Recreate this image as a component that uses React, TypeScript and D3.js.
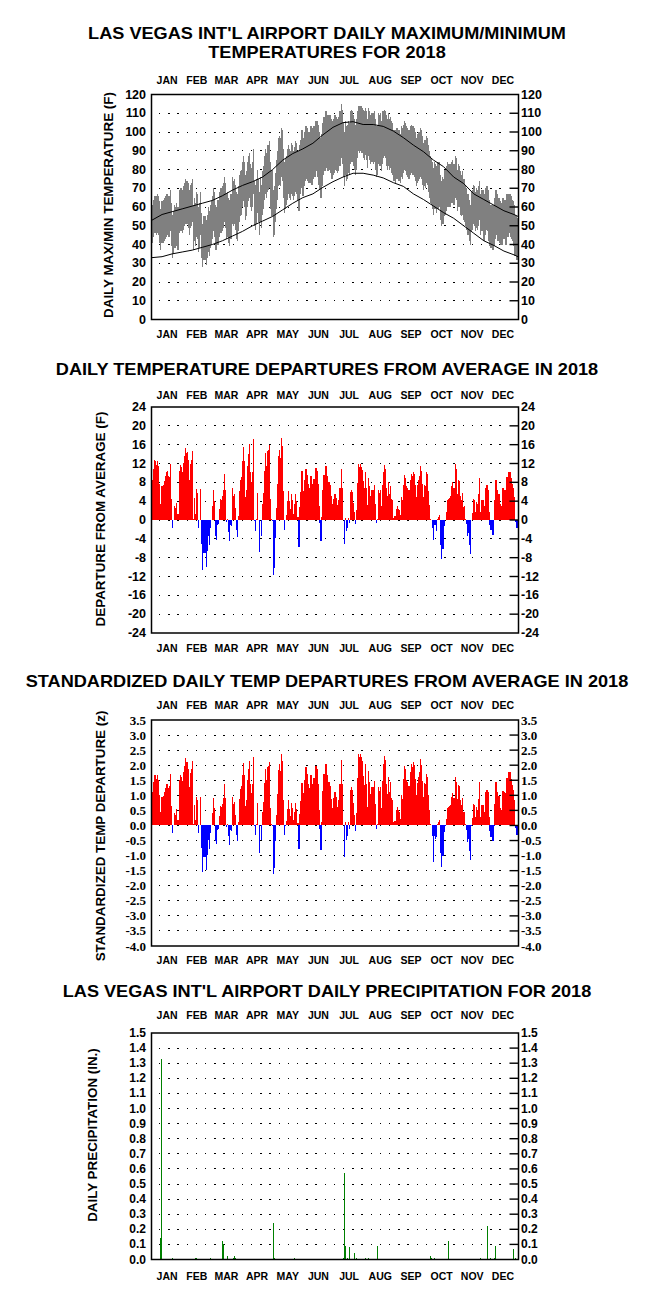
import React from "react";
import * as d3 from "d3";

const MONTHS = ["JAN", "FEB", "MAR", "APR", "MAY", "JUN", "JUL", "AUG", "SEP", "OCT", "NOV", "DEC"];
const MONTH_DAYS = [31, 28, 31, 30, 31, 30, 31, 31, 30, 31, 30, 31];

const TEMP_TICKS = [0, 10, 20, 30, 40, 50, 60, 70, 80, 90, 100, 110, 120];
const DEP_TICKS = [24, 20, 16, 12, 8, 4, 0, -4, -8, -12, -16, -20, -24];
const Z_TICKS = [3.5, 3.0, 2.5, 2.0, 1.5, 1.0, 0.5, 0.0, -0.5, -1.0, -1.5, -2.0, -2.5, -3.0, -3.5, -4.0];
const PRECIP_TICKS = [0, 0.1, 0.2, 0.3, 0.4, 0.5, 0.6, 0.7, 0.8, 0.9, 1.0, 1.1, 1.2, 1.3, 1.4, 1.5];

// daily max / min temperatures (F)
const TMAX = [
  61,64,66,66,66,67,66,63,59,63, 63,64,65,66,67,67,66,66,69,62, 56,58,61,60,62,60,60,69,70,70,
  69,71,73,75,74,74,73,69,72,73, 75,61,65,62,68,67,60,62,68,57, 51,55,55,55,53,56,60,58,61,63,
  66,70,68,61,60,64,64,68,70,70, 71,73,76,73,67,68,65,64,67,67, 76,74,75,72,68,67,71,77,79,80,
  84,87,84,77,79,84,87,89,83,81, 84,91,74,72,75,80,75,68,76,72, 79,82,87,91,89,93,93,95,84,80,
  80,69,71,78,85,90,97,98,97,102, 101,91,84,86,87,91,93,91,90,94, 93,90,92,95,94,90,84,93,96,101,
  92,97,100,103,102,100,100,100,103,98, 102,103,103,106,106,104,100,97,93,99, 105,108,107,111,109,107,109,109,107,104,
  106,107,109,108,107,108,111,111,115,112, 105,100,106,103,104,106,105,111,112,111, 109,107,104,107,111,114,114,114,114,113,
  112,111,113,111,107,113,111,109,110,110, 110,111,107,103,104,110,109,110,106,111, 111,112,111,109,107,110,107,108,106,105,
  101,101,101,102,102,101,101,99,103,102, 104,106,105,103,102,101,101,103,104,103, 103,102,100,97,99,100,100,102,101,98,
  94,96,96,98,97,93,90,87,86,84, 81,84,83,82,84,84,84,77,74,76, 75,80,80,82,84,83,83,83,84,85,
  83,83,87,86,80,83,82,79,77,79, 75,75,72,70,67,67,64,61,68,69, 72,71,68,70,69,71,74,67,69,69,
  64,67,70,71,69,64,61,60,61,58, 61,65,69,67,64,65,63,62,62,65, 64,64,62,67,66,67,67,66,64,63,
  61,56,55,53,54
];
const TMIN = [
  41,44,46,46,45,46,45,41,37,41, 41,41,42,43,44,45,44,44,47,39, 33,35,38,38,39,37,37,46,47,47,
  46,48,50,51,51,51,49,45,49,50, 52,37,42,39,44,43,36,38,45,33, 28,32,32,32,29,33,36,34,38,40,
  43,47,44,37,37,40,40,44,46,46, 47,49,52,49,43,44,41,39,43,43, 51,50,51,48,43,42,47,52,55,56,
  60,63,60,53,55,60,63,65,60,58, 60,67,50,48,51,57,52,45,52,49, 56,59,64,67,65,68,69,70,59,55,
  55,44,45,52,59,64,71,72,71,76, 74,65,57,59,61,64,67,65,64,67, 66,64,66,68,67,64,58,67,70,75,
  66,71,74,76,75,74,73,73,76,72, 75,76,76,79,79,76,72,69,65,71, 77,80,79,83,81,79,80,80,78,75,
  77,78,80,79,78,79,82,82,86,83, 76,71,77,74,75,78,77,83,84,84, 82,80,77,80,86,90,89,90,89,89,
  86,85,88,85,81,87,85,83,84,84, 83,84,80,76,77,83,82,82,79,83, 86,87,86,82,80,82,80,81,78,77,
  74,74,73,75,75,74,74,73,76,75, 78,80,79,77,76,75,75,77,78,77, 77,76,74,71,73,74,75,76,75,72,
  69,71,70,73,72,68,65,62,61,59, 56,59,59,57,59,59,60,53,50,51, 51,55,56,58,60,60,60,60,62,62,
  61,61,65,64,58,60,60,56,55,56, 53,52,50,48,45,45,42,40,47,48, 51,50,47,49,48,50,53,45,47,47,
  42,45,48,49,47,42,39,38,39,37, 39,43,47,45,42,44,41,40,40,44, 43,43,40,45,44,46,46,44,43,42,
  39,34,34,32,33
];

// normal max / min lines
const NORMAL_DAYS = [0,10,20,30,40,50,60,70,80,90,100,110,120,130,140,150,160,170,180,190,200,210,220,230,240,250,260,270,280,290,300,310,320,330,340,350,360,364];
const NORMAL_MAX = [53,56,57.5,59,60.5,62,63.5,66,69,71.5,73.5,76,80,85,88.5,91,94,98.5,102.5,105,105.5,104,104,103,100.5,97,93,89.5,85,81.5,76,72.5,67,64,61,58,56,55];
const NORMAL_MIN = [33,33.5,35,36,37,38.5,40,42,44.5,47,50,52.5,55,58.5,62,65,67,70.5,73.5,76,78,78,77,75.5,73,71,67,64,60.5,57,54,50,46,42,39.5,36.5,34.5,33.5];

// daily departure from average (F)
const DEP = [
  8.4,10.8,12.7,12.5,11.6,12.5,11.4,7.6,3.3,7.2, 7.2,7.4,8.3,9.3,10.2,10.4,9.3,9.1,12,4.4,
  -1.7,0,3,2.5,3.7,1.3,1.3,10.5,11.6,11.2, 10.2,12.2,13.5,15.2,14.2,14.4,12.7,8.6,11.8,12.7,
  14.6,0.3,4.6,1.2,6.5,5.7,-1.7,0,6.5,-5, -10.6,-7,-7,-7,-10,-6.6,-3.3,-5.4,-1.7,0,
  2.9,6.3,4,-3.5,-4.2,-1.1,-0.8,2.3,4.4,4.2, 5,6.3,9.7,6.3,-0.4,0.3,-2.5,-4.5,-1.1,-1.3,
  6.7,5,5.5,2.5,-2.2,-3.6,0.8,6.2,8.4,9.1, 12.5,15.5,12.5,4.9,6.3,11.4,14,16.1,10.2,8.1,
  10.3,17.1,-0.2,-2.3,0.3,5.7,0,-6.8,0,-3.5, 3.3,5.8,10.5,14.2,11.4,14.6,14.8,15.9,4.4,0.3,
  -0.2,-11.7,-10.3,-3.8,2.6,7.6,13.5,14.9,13.2,17.4, 15.7,6.1,-2.2,-0.1,1,4,6.1,4,2.3,5.5,
  4.2,1.3,3.3,5.5,4,0.6,-5.7,2.8,5.9,10.4, 0.5,6.1,8.4,10.8,9.5,7.6,6.9,6.9,9.3,4.7,
  7.6,8.8,8.4,11,10.4,7.6,2.9,-0.6,-4.5,0.6, 6.4,9.5,7.9,11.5,9.3,6.9,8.1,7.4,5,1.7,
  3.3,4.5,5.5,4.7,3.1,4.2,6.8,6.8, 10.8,6.9,0,-5.2,0.5,-2.4,-1.7,0.5,-0.6,5.9,
  6.4,5.9,3.7,1.7,-0.9,2.1,7.9,11.8,11.3,11.8, 11.3,10.7,8.2,6.7,10.2,6.9,3.1,9,7.2,5.2,
  6.3,6.4,6.3,7.4,3.5,-0.6,0.3,6.4,5.7,6.3, 2.9,7.4,10.2,11.6,10.9,6.9,5.2,8.1,5.5,7.2,
  4.5,4.2,0.5,0.8,0.8,2.4,2.9,2.4,2.2,1, 4.9,4.2,7.4,9.5,9,7.2,6.9,6.3,6.3,8.6,
  9.8,9.3,10.1,9.7,7.4,4.9,7.4,8.4,9.3,11.4, 10.4,7.7,4.9,7.4,7.2,10.3,9.7,6.1,3.1,0.3,
  0,-1.7,-4.3,-1.1,-1.1,-2.3,0.3,0.6,1.1,-5.4, -8.2,-6.1,-6.1,-1.3,-0.1,1.7,4.3,4.5,4.7,5.2,
  7.2,8.1,6.9,6.9,12,10.9,5.6,8.4,8.3,5.2, 4.2,5.7,2.8,2.9,0.3,-0.9,-3.5,-2.8,-5.4,-7.2,
  -0.1,1.5,4.5,4.2,1.7,3.8,3.3,5.6,9,1.7, 4.3,4.3,0.3,2.9,6.9,7.4,6.4,1.7,-1.1,-2.2,
  -1.1,-3.1,-0.1,4.2,8.4,6.4,4,5.6,3.3,2.8, 2.9,6.7,6.4,6.3,4.2,9.1,8.4,10.3,10.2,9,
  7.7,6.9,4.9,0,-0.4,-1.8,-0.6
];

// standardized daily departure (z)
const ZDEP = [
  1.12,1.44,1.69,1.67,1.55,1.67,1.52,1.01,0.44,0.96, 0.96,0.99,1.11,1.24,1.36,1.39,1.24,1.3,1.71,0.63,
  -0.24,0,0.43,0.36,0.53,0.19,0.19,1.5,1.66,1.6, 1.46,1.79,1.99,2.24,2.09,2.12,1.87,1.26,1.74,1.87,
  2.15,0.04,0.68,0.18,0.96,0.84,-0.25,0,0.96,-0.74, -1.56,-1.03,-1.03,-1.03,-1.47,-0.97,-0.49,-0.79,-0.25,0,
  0.41,0.9,0.57,-0.5,-0.6,-0.16,-0.11,0.33,0.63,0.6, 0.71,0.9,1.39,0.9,-0.06,0.04,-0.36,-0.64,-0.16,-0.19,
  0.96,0.71,0.79,0.36,-0.31,-0.51,0.11,0.89,1.2,1.3, 1.67,2.07,1.67,0.65,0.84,1.52,1.87,2.15,1.36,1.08,
  1.37,2.28,-0.03,-0.31,0.04,0.76,0,-0.91,0,-0.47, 0.44,0.77,1.4,1.89,1.52,1.95,1.97,2.12,0.59,0.04,
  -0.03,-1.6,-1.41,-0.52,0.36,1.04,1.85,2.04,1.81,2.38, 2.15,0.84,-0.3,-0.01,0.14,0.55,0.84,0.55,0.32,0.75,
  0.58,0.18,0.45,0.75,0.55,0.08,-0.78,0.38,0.81,1.42, 0.07,1.09,1.5,1.93,1.7,1.36,1.23,1.23,1.66,0.84,
  1.36,1.57,1.5,1.96,1.86,1.36,0.52,-0.11,-0.8,0.11, 1.14,1.7,1.41,2.05,1.66,1.23,1.45,1.32,0.89,0.3,
  0.59,0.9,1.1,0.94,0.62,0.84,1.36,1.36, 2.16,1.38,0,-1.04,0.1,-0.48,-0.34,0.1,-0.12,1.18,
  1.28,1.18,0.74,0.34,-0.18,0.42,1.58,2.36,2.26,2.36, 2.26,2.14,1.64,1.34,2.04,1.38,0.62,1.8,1.44,1.04,
  1.26,1.28,1.26,1.48,0.7,-0.12,0.06,1.28,1.14,1.26, 0.58,1.48,2.04,2.32,2.18,1.38,1.04,1.62,1.1,1.44,
  0.9,0.84,0.1,0.16,0.16,0.5,0.6,0.5,0.46,0.21, 1.02,0.88,1.54,1.98,1.88,1.5,1.44,1.31,1.31,1.79,
  2.04,1.94,2.1,2.02,1.54,1.02,1.42,1.62,1.79,2.19, 2.0,1.48,0.94,1.42,1.38,1.72,1.62,1.02,0.52,0.05,
  0,-0.35,-1.2,-0.34,-0.45,-0.38,0.05,0.1,0.18,-0.9, -1.37,-1.02,-1.02,-0.22,-0.02,0.23,0.57,0.6,0.63,0.69,
  0.96,1.08,0.92,0.92,1.6,1.45, 0.89,1.33,1.32,0.83,0.67,0.9,0.44,0.46,0.05,-0.14,-0.56,-0.44,-0.86,-1.14,
  -0.02,0.24,0.71,0.67,0.27,0.6,0.52,0.89,1.43,0.27, 0.68,0.68,0.05,0.46,1.1,1.17,
  1.1,0.29,-0.19,-0.38,-0.19,-0.53,-0.02,0.72,1.45,1.1, 0.69,0.97,0.57,0.48,0.5,1.16,1.1,1.09,0.72,1.57,
  1.45,1.78,1.76,1.55,1.33,1.19,0.84,0,-0.07,-0.31,-0.1
];

// daily precipitation (in.), days with measurable amounts
const PRECIP_DAYS = [8, 9, 20, 43, 44, 58, 70, 71, 75, 81, 82, 83, 121, 122, 142, 190, 191, 192, 194, 196, 201, 203, 212, 215, 224, 277, 278, 281, 295, 327, 334, 337, 341, 342, 360, 362];
const PRECIP_IN = [0.14, 1.33, 0.01, 0.01, 0.01, 0.01, 0.12, 0.1, 0.02, 0.01, 0.02, 0.01, 0.24, 0.01, 0.01, 0.01, 0.57, 0.09, 0.01, 0.08, 0.04, 0.01, 0.01, 0.01, 0.09, 0.02, 0.01, 0.01, 0.12, 0.01, 0.22, 0.01, 0.01, 0.09, 0.07, 0.01];

const SANS = "'Liberation Sans', Arial, Helvetica, sans-serif";
const SERIF = "'Liberation Serif', 'Times New Roman', serif";
const X0 = 151.5;
const X1 = 518.5;

const x = d3.scaleLinear().domain([0, 365]).range([X0, X1]);
const monthStarts = d3.cumsum(MONTH_DAYS).map((v, i) => v - MONTH_DAYS[i]);

type PanelProps = {
  top: number;
  bottom: number;
  domain: [number, number];
  ticks: number[];
  fmt: (v: number) => string;
  tickFont: string;
  tickWeight: string | number;
  tickSize: number;
  ytitle: string;
  ytitleX: number;
  ytitleY: number;
  children?: (y: d3.ScaleLinear<number, number>) => React.ReactNode;
};

function Months({ y }: { y: number }) {
  return (
    <g>
      {MONTHS.map((m, i) => (
        <text key={m} x={x(monthStarts[i] + MONTH_DAYS[i] / 2)} y={y} textAnchor="middle"
          fontFamily={SANS} fontWeight="bold" fontSize={10.5} fill="#000">{m}</text>
      ))}
    </g>
  );
}

function Panel(p: PanelProps) {
  const y = d3.scaleLinear().domain(p.domain).range([p.bottom, p.top]);
  const inner = p.ticks.filter((t) => t !== p.domain[0] && t !== p.domain[1]);
  return (
    <g>
      {inner.map((t) => (
        <line key={"g" + t} x1={159} x2={509} y1={y(t)} y2={y(t)} stroke="#000" strokeWidth={1}
          strokeDasharray="1.3 7.9" shapeRendering="crispEdges" />
      ))}
      {p.children && p.children(y)}
      <rect x={X0} y={p.top} width={X1 - X0} height={p.bottom - p.top} fill="none" stroke="#000" strokeWidth={1.5} />
      {monthStarts.slice(1).map((d) => (
        <g key={"m" + d}>
          <line x1={x(d)} x2={x(d)} y1={p.top} y2={p.top + 13} stroke="#000" strokeWidth={1.4} />
          <line x1={x(d)} x2={x(d)} y1={p.bottom - 13} y2={p.bottom} stroke="#000" strokeWidth={1.4} />
        </g>
      ))}
      {inner.map((t) => (
        <line key={"r" + t} x1={X1 - 9} x2={X1} y1={y(t)} y2={y(t)} stroke="#000" strokeWidth={1.4} />
      ))}
      {p.ticks.map((t) => (
        <g key={"l" + t}>
          <text x={146} y={y(t)} textAnchor="end" dominantBaseline="central" fontFamily={p.tickFont}
            fontWeight={p.tickWeight} fontSize={p.tickSize} fill="#000">{p.fmt(t)}</text>
          <text x={521} y={y(t)} textAnchor="start" dominantBaseline="central" fontFamily={p.tickFont}
            fontWeight={p.tickWeight} fontSize={p.tickSize} fill="#000">{p.fmt(t)}</text>
        </g>
      ))}
      <text transform={`translate(${p.ytitleX},${p.ytitleY}) rotate(-90)`} textAnchor="middle"
        dominantBaseline="central" fontFamily={SANS} fontWeight="bold" fontSize={13.4} fill="#000">{p.ytitle}</text>
    </g>
  );
}

function Title({ y, text }: { y: number; text: string }) {
  return (
    <text transform={`translate(327,${y}) scale(1.1,1)`} x={0} y={0} textAnchor="middle" fontFamily={SANS}
      fontWeight="bold" fontSize={16.5} fill="#000">{text}</text>
  );
}

export default function App() {
  const step = x(1) - x(0);
  const normalPath = (y: d3.ScaleLinear<number, number>, vals: number[]) =>
    d3.line<number>().x((_, i) => x(NORMAL_DAYS[i] + 0.5)).y((v) => y(v))(vals) || "";

  return (
    <svg width={660} height={1293} style={{ position: "absolute", left: 0, top: 0, background: "#fff" }}>
      <rect x={0} y={0} width={660} height={1293} fill="#fff" />
      <Title y={39} text="LAS VEGAS INT'L AIRPORT DAILY MAXIMUM/MINIMUM" />
      <Title y={58} text="TEMPERATURES FOR 2018" />
      <Months y={84} />
      <Panel top={94.5} bottom={319.5} domain={[0, 120]} ticks={TEMP_TICKS} fmt={(v) => String(v)}
        tickFont={SANS} tickWeight="bold" tickSize={12.5} ytitle="DAILY MAX/MIN TEMPERATURE (F)" ytitleX={108} ytitleY={205}>
        {(y) => (
          <g>
            {TMAX.map((mx, i) => (
              <rect key={i} x={x(i)} width={step + 0.2} y={y(mx)} height={y(TMIN[i]) - y(mx)} fill="#808080"
                shapeRendering="crispEdges" />
            ))}
            <path d={normalPath(y, NORMAL_MAX)} fill="none" stroke="#000" strokeWidth={1} />
            <path d={normalPath(y, NORMAL_MIN)} fill="none" stroke="#000" strokeWidth={1} />
          </g>
        )}
      </Panel>
      <Months y={338} />

      <Title y={375} text="DAILY TEMPERATURE DEPARTURES FROM AVERAGE IN 2018" />
      <Months y={399} />
      <Panel top={407} bottom={633} domain={[-24, 24]} ticks={DEP_TICKS} fmt={(v) => String(v)}
        tickFont={SANS} tickWeight="bold" tickSize={12.5} ytitle="DEPARTURE FROM AVERAGE (F)" ytitleX={100} ytitleY={519}>
        {(y) => (
          <g>
            {DEP.map((v, i) => (
              <rect key={i} x={x(i)} width={step + 0.2} y={Math.min(y(v), y(0))} height={Math.abs(y(v) - y(0))}
                fill={v >= 0 ? "#ff0000" : "#0000ff"} shapeRendering="crispEdges" />
            ))}
          </g>
        )}
      </Panel>
      <Months y={652} />

      <Title y={687} text="STANDARDIZED DAILY TEMP DEPARTURES FROM AVERAGE IN 2018" />
      <Months y={709} />
      <Panel top={720} bottom={946} domain={[-4, 3.5]} ticks={Z_TICKS} fmt={(v) => v.toFixed(1)}
        tickFont={SERIF} tickWeight="bold" tickSize={13} ytitle="STANDARDIZED TEMP DEPARTURE (z)" ytitleX={100} ytitleY={836}>
        {(y) => (
          <g>
            {ZDEP.map((v, i) => (
              <rect key={i} x={x(i)} width={step + 0.2} y={Math.min(y(v), y(0))} height={Math.abs(y(v) - y(0))}
                fill={v >= 0 ? "#ff0000" : "#0000ff"} shapeRendering="crispEdges" />
            ))}
          </g>
        )}
      </Panel>
      <Months y={964} />

      <Title y={997} text="LAS VEGAS INT'L AIRPORT DAILY PRECIPITATION FOR 2018" />
      <Months y={1019} />
      <Panel top={1033} bottom={1259.5} domain={[0, 1.5]} ticks={PRECIP_TICKS} fmt={(v) => v.toFixed(1)}
        tickFont={SANS} tickWeight="bold" tickSize={12} ytitle="DAILY PRECIPITATION (IN.)" ytitleX={92} ytitleY={1135}>
        {(y) => (
          <g>
            {PRECIP_IN.map((v, i) => (
              <rect key={i} x={x(PRECIP_DAYS[i])} width={1} y={y(v)} height={y(0) - y(v)} fill="#008000"
                shapeRendering="crispEdges" />
            ))}
          </g>
        )}
      </Panel>
      <Months y={1280} />
    </svg>
  );
}
